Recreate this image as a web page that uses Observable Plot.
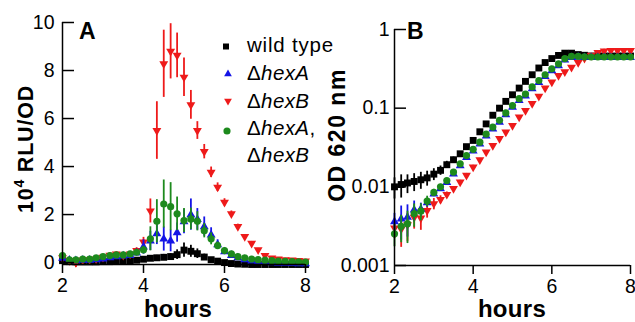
<!DOCTYPE html>
<html><head><meta charset="utf-8">
<script src="https://cdn.jsdelivr.net/npm/d3@7"></script>
<script src="https://cdn.jsdelivr.net/npm/@observablehq/plot@0.6"></script>
<style>
html,body{margin:0;padding:0;background:#fff;}
#wrap{position:relative;width:635px;height:322px;overflow:hidden;}
#wrap > div, #wrap > svg{position:absolute;top:0;}
</style></head><body><div id="wrap"></div>
<script>
// ---------- data ----------
const hours = [2,2.17,2.33,2.5,2.67,2.83,3,3.17,3.33,3.5,3.67,3.83,4,4.17,4.33,4.5,4.67,4.83,5,5.17,5.33,5.5,5.67,5.83,6,6.17,6.33,6.5,6.67,6.83,7,7.17,7.33,7.5,7.67,7.83,8];
const xTicks = [2,4,6,8];
const yTicksA = [0,2,4,6,8,10];
const yTicksB = [0.001,0.01,0.1,1];

// Panel A: 10^4 RLU/OD
const wtRlu = [0.08,0.04,0.03,0.03,0.03,0.03,0.04,0.04,0.05,0.06,0.08,0.10,0.14,0.18,0.20,0.22,0.25,0.33,0.52,0.47,0.37,0.23,0.12,0.06,0.00,-0.04,-0.06,-0.07,-0.08,-0.08,-0.08,-0.08,-0.08,-0.08,-0.08,-0.08,-0.08];
const wtRluErr = [0.06,0.05,0.05,0.05,0.05,0.05,0.05,0.05,0.05,0.05,0.05,0.06,0.08,0.1,0.1,0.12,0.12,0.2,0.3,0.25,0.2,0.12,0.08,0.06,0.05,0.05,0.05,0.05,0.05,0.05,0.05,0.05,0.05,0.05,0.05,0.05,0.05];
const hexBRlu = [0.20,0.08,0.00,0.10,0.12,0.15,0.22,0.30,0.35,0.30,0.35,0.50,0.85,2.15,5.50,8.28,8.80,8.63,7.72,6.57,5.50,4.62,3.76,3.14,2.51,2.03,1.50,1.08,0.80,0.53,0.29,0.19,0.15,0.12,0.10,0.08,0.06];
const hexBRluErr = [0.08,0.08,0.2,0.08,0.08,0.08,0.08,0.1,0.1,0.1,0.1,0.12,0.2,0.5,1.2,1.4,1.15,0.93,0.8,0.6,0.37,0.3,0.22,0.18,0.15,0.12,0.1,0.08,0.08,0.06,0.06,0.05,0.05,0.05,0.05,0.05,0.05];
const hexARlu = [0.18,0.10,0.08,0.10,0.10,0.12,0.15,0.20,0.25,0.28,0.30,0.40,0.65,0.90,1.20,0.98,0.90,1.25,1.70,2.00,1.80,1.50,1.15,0.75,0.45,0.30,0.20,0.12,0.07,0.04,0.02,0.00,-0.02,-0.03,-0.04,-0.05,-0.05];
const hexARluErr = [0.08,0.08,0.08,0.08,0.08,0.08,0.08,0.08,0.08,0.08,0.1,0.12,0.3,0.4,0.45,0.5,0.45,0.4,0.5,0.65,0.45,0.4,0.3,0.2,0.12,0.08,0.06,0.05,0.05,0.05,0.05,0.05,0.05,0.05,0.05,0.05,0.05];
const hexABRlu = [0.29,0.11,0.11,0.15,0.15,0.20,0.25,0.29,0.32,0.32,0.36,0.43,0.53,0.99,1.72,2.44,2.33,2.03,1.75,1.82,1.72,1.33,0.99,0.71,0.50,0.36,0.25,0.20,0.15,0.12,0.10,0.08,0.06,0.05,0.04,0.03,0.02];
const hexABRluErr = [0.06,0.06,0.06,0.06,0.06,0.06,0.06,0.06,0.06,0.06,0.08,0.1,0.15,0.5,0.9,1.0,1.0,0.7,0.5,0.45,0.4,0.3,0.25,0.15,0.1,0.06,0.05,0.05,0.05,0.05,0.05,0.05,0.05,0.05,0.05,0.05,0.05];

// Panel B: OD 620 nm
const wtOD = [0.0100,0.0107,0.0112,0.0117,0.0123,0.0130,0.0145,0.0162,0.0191,0.0221,0.0263,0.0324,0.0389,0.0501,0.0631,0.0813,0.100,0.122,0.148,0.180,0.219,0.266,0.324,0.380,0.427,0.468,0.500,0.500,0.480,0.470,0.460,0.460,0.460,0.460,0.460,0.460,0.460];
const wtODErr = [0.003,0.0035,0.003,0.003,0.003,0.0028,0.0025,0.0022,0.002,0.0018,0.0015,0.001,0.001,0.002,0.002,0.003,0.003,0.004,0.005,0.006,0.007,0.008,0.01,0.01,0.01,0.01,0.01,0.01,0.01,0.01,0.01,0.01,0.01,0.01,0.01,0.01,0.01];
const hexBOD = [0.0030,0.0029,0.0033,0.0041,0.0040,0.0050,0.0061,0.0069,0.0080,0.0095,0.0115,0.0140,0.0178,0.0220,0.0276,0.0335,0.0410,0.0496,0.0600,0.0770,0.0930,0.114,0.141,0.180,0.214,0.260,0.290,0.330,0.380,0.430,0.470,0.510,0.530,0.540,0.540,0.540,0.540];
const hexBODErr = [0.0008,0.0012,0.0013,0.0012,0.0012,0.001,0.001,0.0008,0.0006,0.0006,0.0006,0.0008,0.001,0.001,0.0012,0.0015,0.002,0.002,0.003,0.003,0.004,0.005,0.006,0.007,0.008,0.009,0.01,0.01,0.012,0.015,0.02,0.025,0.03,0.03,0.03,0.03,0.03];
const hexAOD = [0.0036,0.0039,0.0041,0.0051,0.0052,0.0063,0.0081,0.0095,0.0114,0.0146,0.0186,0.0237,0.0285,0.0352,0.0444,0.0546,0.0665,0.0826,0.103,0.125,0.143,0.177,0.213,0.253,0.300,0.348,0.410,0.440,0.445,0.440,0.440,0.440,0.440,0.440,0.440,0.440,0.440];
const hexAODErr = [0.001,0.0018,0.0018,0.0015,0.001,0.0008,0.0006,0.0006,0.0006,0.0006,0.0008,0.001,0.001,0.001,0.0015,0.002,0.002,0.003,0.003,0.004,0.004,0.005,0.006,0.006,0.007,0.008,0.008,0.008,0.008,0.008,0.008,0.008,0.008,0.008,0.008,0.008,0.008];
const hexABOD = [0.00253,0.00315,0.0034,0.00456,0.0049,0.0066,0.0085,0.0100,0.0120,0.0154,0.0196,0.0250,0.0300,0.0370,0.0467,0.0575,0.0700,0.0870,0.108,0.132,0.151,0.186,0.224,0.266,0.316,0.366,0.427,0.457,0.457,0.450,0.447,0.447,0.447,0.447,0.447,0.447,0.447];
const hexABODErr = [0.0008,0.0012,0.0015,0.0015,0.0012,0.001,0.0008,0.0006,0.0006,0.0006,0.0008,0.001,0.001,0.001,0.0015,0.002,0.002,0.003,0.003,0.004,0.004,0.005,0.006,0.006,0.007,0.008,0.008,0.008,0.008,0.008,0.008,0.008,0.008,0.008,0.008,0.008,0.008];

// ---------- styling ----------
const FONT = '"Liberation Sans", Arial, Helvetica, sans-serif';
const triangleDown = {
  draw(context, size) {
    const y = -Math.sqrt(size / (Math.sqrt(3) * 3));
    context.moveTo(0, -y * 2);
    context.lineTo(-Math.sqrt(3) * y, y);
    context.lineTo(Math.sqrt(3) * y, y);
    context.closePath();
  }
};
const series = [
  {label: "wild type", color: "#000000", symbol: "square", r: 3.9, rlu: wtRlu, rluErr: wtRluErr, od: wtOD, odErr: wtODErr},
  {label: "ΔhexB", color: "#ee1a1a", symbol: triangleDown, r: 3.3, rlu: hexBRlu, rluErr: hexBRluErr, od: hexBOD, odErr: hexBODErr},
  {label: "ΔhexA", color: "#1414e6", symbol: "triangle", r: 3.3, rlu: hexARlu, rluErr: hexARluErr, od: hexAOD, odErr: hexAODErr},
  {label: "ΔhexA, ΔhexB", color: "#1d8a1d", symbol: "circle", r: 3.6, rlu: hexABRlu, rluErr: hexABRluErr, od: hexABOD, odErr: hexABODErr}
];

function seriesMarks(valKey, errKey) {
  return series.flatMap(s => {
    const rows = hours.map((t, i) => ({t, v: s[valKey][i], lo: s[valKey][i] - s[errKey][i], hi: s[valKey][i] + s[errKey][i]}));
    return [
      Plot.ruleX(rows, {x: "t", y1: "lo", y2: "hi", stroke: s.color, strokeWidth: 1.8}),
      Plot.dot(rows, {x: "t", y: "v", symbol: s.symbol, r: s.r, fill: s.color, stroke: "none"})
    ];
  });
}

const wrap = document.getElementById("wrap");
const xDomain = [2, 8];
const yDomainA = [-0.08, 10];
const yDomainB = [0.001, 1];
const fmt = d => String(d);

// ---------- Panel A ----------
const wA = 320, mLA = 62, mRA = 15;
const plotA = Plot.plot({
  width: wA, height: 322, marginLeft: mLA, marginRight: mRA, marginTop: 22, marginBottom: 58,
  style: {fontFamily: FONT, fontSize: "19.5px", color: "#000", background: "transparent", overflow: "visible"},
  x: {domain: xDomain},
  y: {domain: yDomainA},
  marks: [
    ...seriesMarks("rlu", "rluErr"),
    Plot.ruleX([xDomain[0]], {stroke: "#000", strokeWidth: 1.5}),
    Plot.ruleY([yDomainA[0]], {stroke: "#000", strokeWidth: 1.5}),
    Plot.tickY(yTicksA, {y: d => d, insetRight: (wA - mLA - mRA) - 12, stroke: "#000", strokeWidth: 1.5}),
    Plot.axisX({ticks: xTicks, tickFormat: fmt, tickSize: 9, tickPadding: 5, strokeWidth: 1.5, label: null}),
    Plot.axisY({ticks: yTicksA, tickFormat: fmt, tickSize: 0, tickPadding: 8, label: null})
  ]
});
const divA = document.createElement("div");
divA.style.left = "0px";
divA.appendChild(plotA);
wrap.appendChild(divA);

// ---------- Panel B ----------
const wB = 315, mLB = 74, mRB = 5;
const plotB = Plot.plot({
  width: wB, height: 322, marginLeft: mLB, marginRight: mRB, marginTop: 29, marginBottom: 57,
  style: {fontFamily: FONT, fontSize: "19.5px", color: "#000", background: "transparent", overflow: "visible"},
  x: {domain: xDomain},
  y: {type: "log", domain: yDomainB},
  marks: [
    ...seriesMarks("od", "odErr"),
    Plot.ruleX([xDomain[0]], {stroke: "#000", strokeWidth: 1.5}),
    Plot.ruleY([yDomainB[0]], {stroke: "#000", strokeWidth: 1.5}),
    Plot.tickY(yTicksB, {y: d => d, insetRight: (wB - mLB - mRB) - 12, stroke: "#000", strokeWidth: 1.5}),
    Plot.axisX({ticks: xTicks, tickFormat: fmt, tickSize: 9, tickPadding: 5, strokeWidth: 1.5, label: null}),
    Plot.axisY({ticks: yTicksB, tickFormat: fmt, tickSize: 0, tickPadding: 5, label: null})
  ]
});
const divB = document.createElement("div");
divB.style.left = "320px";
divB.appendChild(plotB);
wrap.appendChild(divB);

// ---------- annotations: titles, panel letters, legend ----------
const ov = d3.select(wrap).append("svg")
  .attr("width", 635).attr("height", 322)
  .style("left", "0px").style("pointer-events", "none")
  .style("font-family", FONT);

ov.append("text").attr("x", 79).attr("y", 39).attr("font-weight", "bold").attr("font-size", 23).text("A");
ov.append("text").attr("x", 407).attr("y", 39).attr("font-weight", "bold").attr("font-size", 23).text("B");

ov.append("text").attr("x", 178).attr("y", 317).attr("text-anchor", "middle")
  .attr("font-weight", "bold").attr("font-size", 24).attr("letter-spacing", 0.3).text("hours");
ov.append("text").attr("x", 512).attr("y", 317).attr("text-anchor", "middle")
  .attr("font-weight", "bold").attr("font-size", 24).attr("letter-spacing", 0.3).text("hours");

const yl = ov.append("text").attr("transform", "translate(33,149) rotate(-90)")
  .attr("text-anchor", "middle").attr("font-weight", "bold").attr("font-size", 21.5).attr("letter-spacing", 0.8);
yl.append("tspan").text("10");
yl.append("tspan").attr("font-size", 14).attr("dy", -9).text("4");
yl.append("tspan").attr("dy", 9).text(" RLU/OD");

ov.append("text").attr("transform", "translate(345,135) rotate(-90)")
  .attr("text-anchor", "middle").attr("font-weight", "bold").attr("font-size", 23)
  .attr("letter-spacing", 1.5).text("OD 620 nm");

// legend
const legItems = [
  {s: series[0], sym: d3.symbolSquare, size: 36, cx: 226, cy: 46.5},
  {s: series[2], sym: d3.symbolTriangle, size: 26, cx: 228, cy: 74},
  {s: series[1], sym: triangleDown, size: 26, cx: 228, cy: 101},
  {s: series[3], sym: d3.symbolCircle, size: 40, cx: 227, cy: 131}
];
legItems.forEach(it => {
  ov.append("path").attr("d", d3.symbol(it.sym, it.size)()).attr("transform", `translate(${it.cx},${it.cy})`).attr("fill", it.s.color);
});
const legText = (y, parts) => {
  const t = ov.append("text").attr("x", 247).attr("y", y).attr("font-size", 20.5).attr("letter-spacing", 0.4);
  parts.forEach(([txt, it]) => t.append("tspan").attr("font-style", it ? "italic" : "normal").text(txt));
  return t;
};
legText(52, [["wild type", false]]).attr("letter-spacing", 0.8);
legText(80, [["Δ", false], ["hexA", true]]);
legText(108, [["Δ", false], ["hexB", true]]);
legText(135, [["Δ", false], ["hexA", true], [",", false]]);
legText(162, [["Δ", false], ["hexB", true]]);
</script>
</body></html>
